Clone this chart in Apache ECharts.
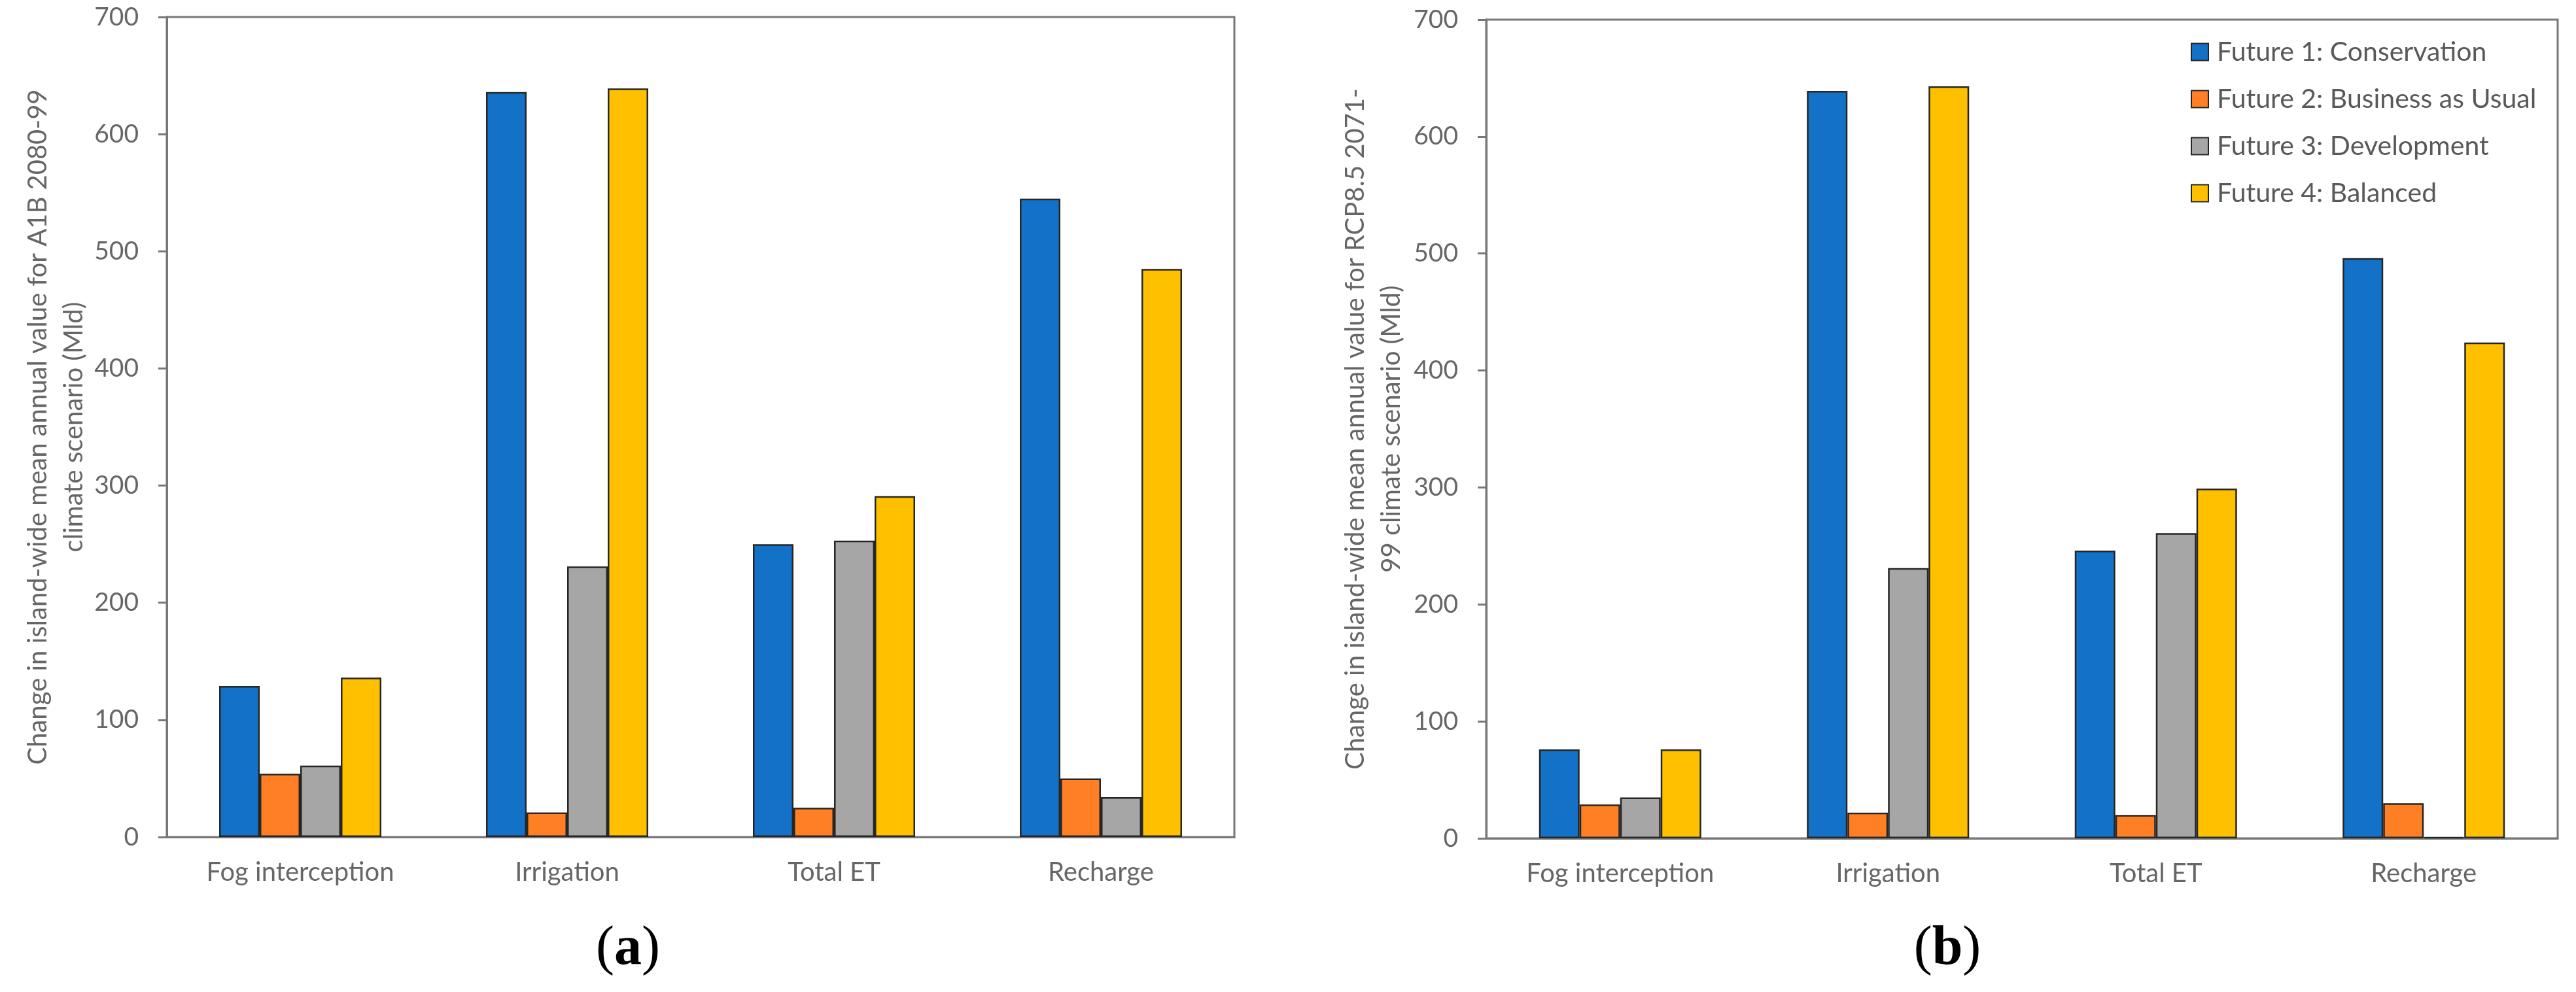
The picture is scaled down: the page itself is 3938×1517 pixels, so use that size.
<!DOCTYPE html>
<html>
<head>
<meta charset="utf-8">
<script src="https://cdn.jsdelivr.net/npm/echarts@6/dist/echarts.min.js"></script>
<style>
  html, body { margin: 0; padding: 0; background: #fff; }
  #main { width: 3938px; height: 1517px; }
</style>
</head>
<body>
<div id="main"></div>
<script>
// categories and series values (Mld)
var categories = ['Fog interception', 'Irrigation', 'Total ET', 'Recharge'];
var seriesNames = ['Future 1: Conservation', 'Future 2: Business as Usual', 'Future 3: Development', 'Future 4: Balanced'];
var colors = ['#1471c8', '#ff7f24', '#a6a6a6', '#ffc000'];

// (a) A1B 2080-99
var a1bConservation = [129, 636, 250, 545];
var a1bBusiness = [54, 21, 25, 50];
var a1bDevelopment = [61, 231, 253, 34];
var a1bBalanced = [136, 639, 291, 485];

// (b) RCP8.5 2071-99
var rcpConservation = [76, 639, 246, 496];
var rcpBusiness = [29, 22, 20, 30];
var rcpDevelopment = [35, 231, 261, 1];
var rcpBalanced = [76, 643, 299, 424];

var yTitleA = 'Change in island-wide mean annual value for A1B 2080-99\nclimate scenario (Mld)';
var yTitleB = 'Change in island-wide mean annual value for RCP8.5 2071-\n99 climate scenario (Mld)';

var font = 'Lato';
var textColor = '#666666';
var lineColor = '#777777';

var myChart = echarts.init(document.getElementById('main'));

function makeX(gridIndex) {
  return {
    type: 'category',
    gridIndex: gridIndex,
    data: categories,
    axisLine: { lineStyle: { color: lineColor, width: 3 } },
    axisTick: { show: false },
    axisLabel: { color: textColor, fontFamily: font, fontSize: 40, margin: 34 }
  };
}

function makeY(gridIndex, name, gap) {
  return {
    type: 'value',
    gridIndex: gridIndex,
    min: 0,
    max: 700,
    interval: 100,
    name: name,
    nameLocation: 'middle',
    nameRotate: 90,
    nameGap: gap,
    nameTextStyle: { color: textColor, fontFamily: font, fontSize: 40, lineHeight: 55, align: 'center' },
    axisLine: { show: true, lineStyle: { color: lineColor, width: 3 } },
    axisTick: { show: true, length: 13, lineStyle: { color: lineColor, width: 3 } },
    axisLabel: { color: textColor, fontFamily: font, fontSize: 39, margin: 43 },
    splitLine: { show: false }
  };
}

function makeBars(gridIndex, lists) {
  return lists.map(function(vals, i) {
    return {
      name: seriesNames[i],
      type: 'bar',
      xAxisIndex: gridIndex,
      yAxisIndex: gridIndex,
      data: vals,
      barWidth: 62,
      barGap: '0%',
      itemStyle: { color: colors[i], borderColor: '#262626', borderWidth: 2.5 },
      emphasis: { disabled: true }
    };
  });
}

var option = {
  backgroundColor: '#ffffff',
  animation: false,
  title: [{
    text: '({b|a})',
    left: 955,
    top: 1405,
    textAlign: 'center',
    textStyle: { fontFamily: 'Liberation Serif', fontSize: 84, color: '#000', fontWeight: 'normal',
      rich: { b: { fontFamily: 'Liberation Serif', fontSize: 84, fontWeight: 'bold', color: '#000' } } }
  }, {
    text: '({b|b})',
    left: 2972,
    top: 1405,
    textAlign: 'center',
    textStyle: { fontFamily: 'Liberation Serif', fontSize: 84, color: '#000', fontWeight: 'normal',
      rich: { b: { fontFamily: 'Liberation Serif', fontSize: 84, fontWeight: 'bold', color: '#000' } } }
  }],
  legend: {
    data: seriesNames,
    orient: 'vertical',
    left: 3344,
    top: 54,
    itemWidth: 26,
    itemHeight: 26,
    itemGap: 31,
    icon: 'rect',
    textStyle: { color: '#595959', fontFamily: font, fontSize: 41, lineHeight: 40, padding: [0, 0, 0, 8] }
  },
  grid: [
    { left: 255, top: 26, width: 1632, height: 1254, show: true, borderColor: lineColor, borderWidth: 3 },
    { left: 2272, top: 30, width: 1638, height: 1252, show: true, borderColor: lineColor, borderWidth: 3 }
  ],
  xAxis: [makeX(0), makeX(1)],
  yAxis: [makeY(0, yTitleA, 114), makeY(1, yTitleB, 117)],
  series: makeBars(0, [a1bConservation, a1bBusiness, a1bDevelopment, a1bBalanced])
    .concat(makeBars(1, [rcpConservation, rcpBusiness, rcpDevelopment, rcpBalanced]))
};

myChart.setOption(option);
</script>
</body>
</html>
